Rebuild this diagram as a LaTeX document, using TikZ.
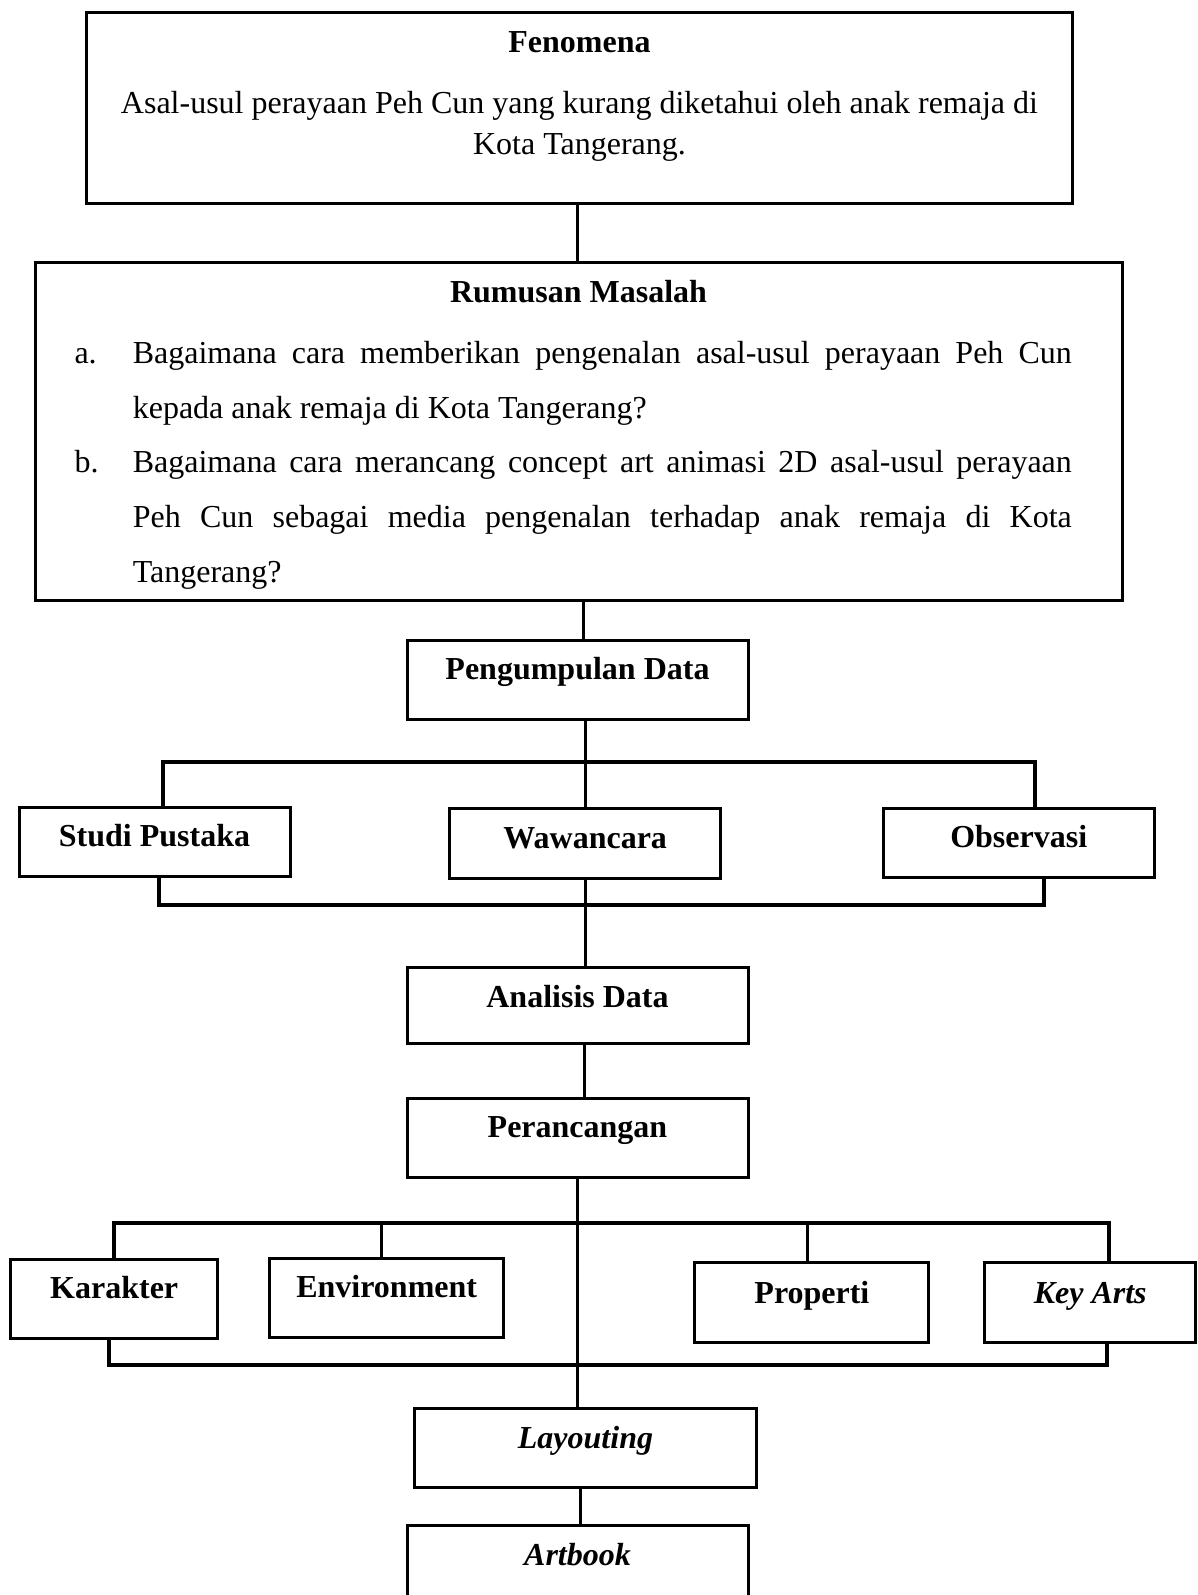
\documentclass[tikz,border=0pt]{standalone}
\usepackage{fontspec}
\setmainfont{Liberation Serif}
\usepackage{tikz}
\newcommand{\bodysize}{\fontsize{32}{40.7}\selectfont}
\newcommand{\listsize}{\fontsize{32}{55}\selectfont}
\hyphenpenalty=10000
\tolerance=9999

\begin{document}
\begin{tikzpicture}[x=1pt, y=-1pt, font=\bodysize, line width=3pt,
  panel/.style={draw, anchor=north, inner sep=0pt},
  stage/.style={draw, anchor=north, inner sep=0pt, text height=39.5pt, text depth=39.5pt, font=\bodysize\bfseries},
  head/.style={anchor=base, inner sep=0pt, font=\bodysize\bfseries},
  item/.style={anchor=base west, inner sep=0pt, text width=939pt, align=justify, font=\listsize},
  bracket/.style={line width=4pt}]
  \useasboundingbox (0,0) rectangle (1197,1595);
  \clip (0,0) rectangle (1197,1595);
  \node[panel, minimum width=986pt, minimum height=191pt] (fen) at (579.5,10.7) {};
  \node[head] (fent) at (579.5,52.5) {Fenomena};
  \node[anchor=base, inner sep=0pt, text width=986pt, align=flush center] (fenb) at (579.5,113.5)
    {Asal-usul perayaan Peh Cun yang kurang diketahui oleh anak remaja di\\Kota Tangerang.};
  \node[panel, minimum width=1087pt, minimum height=338pt] (rum) at (578.5,261) {};
  \node[head] (rumt) at (578.5,302.5) {Rumusan Masalah};
  \node[anchor=base west, inner sep=0pt, font=\listsize] (la) at (73,363) {a.};
  \node[item] (qa) at (131.3,363)
    {Bagaimana cara memberikan pengenalan asal-usul perayaan Peh Cun\linebreak kepada anak remaja di Kota Tangerang?};
  \node[anchor=base west, inner sep=0pt, font=\listsize] (lb) at (73,472.5) {b.};
  \node[item] (qb) at (131.3,472.5)
    {Bagaimana cara merancang concept art animasi 2D asal-usul perayaan\linebreak Peh Cun sebagai media pengenalan terhadap anak remaja di Kota\linebreak Tangerang?};
  \node[stage, minimum width=341pt] (pd) at (577.5,638.6) {Pengumpulan Data};
  \node[stage, minimum width=271pt, text depth=30pt] (sp) at (154.5,805.7) {Studi Pustaka};
  \node[stage, minimum width=271pt, text depth=30pt] (waw) at (585.2,807) {Wawancara};
  \node[stage, minimum width=271pt, text depth=30pt] (obs) at (1018.7,806.7) {Observasi};
  \node[stage, minimum width=341pt, text depth=36.4pt] (an) at (577.5,966.3) {Analisis Data};
  \node[stage, minimum width=341pt] (per) at (577.5,1096.6) {Perancangan};
  \node[stage, minimum width=207pt] (kar) at (114.2,1257.7) {Karakter};
  \node[stage, minimum width=234pt] (env) at (386.7,1256.7) {Environment};
  \node[stage, minimum width=234pt, text height=40.7pt] (prop) at (811.9,1261) {Properti};
  \node[stage, minimum width=211pt, text height=40.7pt] (key) at (1090.2,1261) {\textit{Key Arts}};
  \node[stage, minimum width=342pt] (lay) at (585.5,1407.3) {\textit{Layouting}};
  \node[stage, minimum width=341pt, text depth=80pt] (art) at (577.5,1524) {\textit{Artbook}};
  \coordinate (ctop) at (585.5,762);
  \coordinate (cbot) at (585.5,904.6);
  \coordinate (dtop) at (577.9,1223);
  \coordinate (dbot) at (577.9,1365);
  \draw ([xshift=-2pt]fen.south) -- ([xshift=-2pt]fen.south |- rum.north);
  \draw ([xshift=6pt]pd.north) -- ([xshift=6pt]pd.north |- rum.south);
  \draw (pd.south -| waw.north) -- (waw.north);
  \draw[bracket] ([xshift=8pt]sp.north) |- (ctop) -| ([xshift=16pt]obs.north);
  \draw[bracket] ([xshift=4pt]sp.south) |- (cbot) -| ([xshift=25.6pt]obs.south);
  \draw (waw.south) -- (waw.south |- an.north);
  \draw ([xshift=7pt]an.south) -- ([xshift=7pt]per.north);
  \draw[bracket] (kar.north) |- (dtop) -| ([xshift=19pt]key.north);
  \draw ([xshift=-5pt]env.north) -- ([xshift=-5pt]env.north |- dtop);
  \draw ([xshift=-4pt]prop.north) -- ([xshift=-4pt]prop.north |- dtop);
  \draw[bracket] ([xshift=-5pt]kar.south) |- (dbot) -| ([xshift=17pt]key.south);
  \draw (per.south) -- (per.south |- lay.north);
  \draw ([xshift=-5pt]lay.south) -- ([xshift=-5pt]lay.south |- art.north);
\end{tikzpicture}
\end{document}
